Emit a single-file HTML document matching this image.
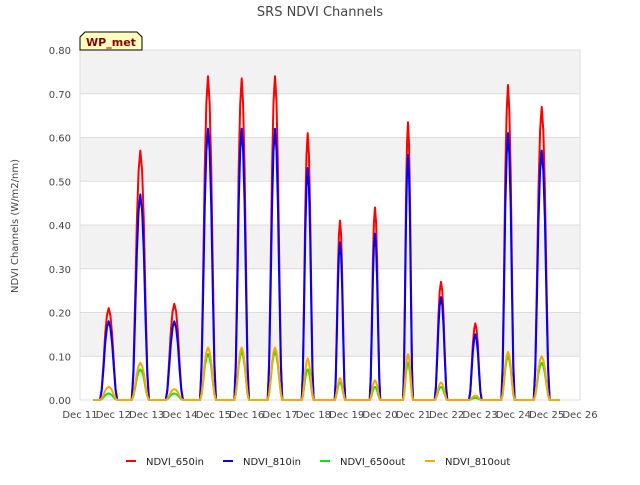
<!DOCTYPE html>
<html><head><meta charset="utf-8"><style>
body{margin:0;background:#fff;font-family:"Liberation Sans","DejaVu Sans",sans-serif}
svg text{font-family:"DejaVu Sans","Liberation Sans",sans-serif}
</style></head><body>
<svg id="c" width="640" height="480">
<rect x="0" y="0" width="640" height="480" fill="#fff"/>
<text x="320" y="16" text-anchor="middle" font-size="13" fill="#444">SRS NDVI Channels</text>
<text transform="translate(18,226) rotate(-90)" text-anchor="middle" font-size="10" fill="#444">NDVI Channels (W/m2/nm)</text>
<g id="grid"></g><g id="ax"></g><g id="series"></g>
<g>
<path d="M80,50 L80,37 L85,32 L137,32 L142,37 L142,50 Z" fill="#ffffc0" stroke="#000" stroke-width="1"/>
<text x="111" y="46" text-anchor="middle" font-size="11" font-weight="bold" fill="#8b0000">WP_met</text></g>
<g id="legend"></g>
</svg>
<script>
const yTicks=[0,0.1,0.2,0.3,0.4,0.5,0.6,0.7,0.8];
const xLabels=["Dec 11","Dec 12","Dec 13","Dec 14","Dec 15","Dec 16","Dec 17","Dec 18","Dec 19","Dec 20","Dec 21","Dec 22","Dec 23","Dec 24","Dec 25","Dec 26"];
const peakTimes=[0.86,1.81,2.83,3.84,4.85,5.85,6.83,7.8,8.85,9.84,10.83,11.86,12.84,13.85];
const halfWidths=[0.26,0.26,0.26,0.24,0.22,0.22,0.18,0.16,0.16,0.15,0.19,0.19,0.2,0.24];
const red650in=[0.21,0.57,0.22,0.74,0.735,0.74,0.61,0.41,0.44,0.635,0.27,0.175,0.72,0.67];
const blue810in=[0.18,0.47,0.18,0.62,0.62,0.62,0.53,0.36,0.38,0.56,0.235,0.15,0.61,0.57];
const green650out=[0.015,0.07,0.015,0.105,0.11,0.11,0.07,0.04,0.03,0.085,0.03,0.005,0.1,0.085];
const orange810out=[0.03,0.085,0.025,0.12,0.12,0.12,0.095,0.05,0.045,0.105,0.04,0.01,0.11,0.1];
const profile=[0,0.12,0.4,0.72,0.92,1,0.92,0.72,0.4,0.12,0];
const X0=80,X1=580,Y0=400,Y1=50;
const xs=t=>X0+t*(X1-X0)/15, ys=v=>Y0-v*(Y0-Y1)/0.8;
const NS="http://www.w3.org/2000/svg";
const mk=(tag,attrs,parent)=>{const e=document.createElementNS(NS,tag);for(const k in attrs)e.setAttribute(k,attrs[k]);parent.appendChild(e);return e;};
const grid=document.getElementById('grid'),ax=document.getElementById('ax');
for(let i=0;i<yTicks.length-1;i++){
 if(i%2==1){const r=mk('rect',{x:X0,y:ys(yTicks[i+1]),width:X1-X0,height:ys(yTicks[i])-ys(yTicks[i+1]),fill:'#f2f2f2'},grid);
 
 }
}
mk('rect',{x:X0,y:Y1,width:X1-X0,height:Y0-Y1,fill:'none',stroke:'#ddd'},grid);
yTicks.forEach(v=>{
 const l=mk('line',{x1:X0,x2:X1,y1:ys(v),y2:ys(v),stroke:'#ddd'},grid);
 
 
 const t=mk('text',{x:X0-9,y:ys(v)+4,'text-anchor':'end','font-size':10,fill:'#444'},ax);
 
 
 t.textContent=v.toFixed(2);
});
xLabels.forEach((s,i)=>{
 const t=mk('text',{x:xs(i),y:Y0+18,'text-anchor':'middle','font-size':10,fill:'#444'},ax);
 
 
 t.textContent=s;
});
const series=[["NDVI_650in","#ff0000",red650in],["NDVI_810in","#0000ff",blue810in],["NDVI_650out","#00ee00",green650out],["NDVI_810out","#ffa500",orange810out]];
const sg=document.getElementById('series');
series.forEach(([name,col,vals])=>{
 let pts=[[0.4,0]];
 vals.forEach((v,d)=>{
  const c=peakTimes[d],w=halfWidths[d];
  profile.forEach((p,k)=>pts.push([c-w+k*(2*w/(profile.length-1)),v*p]));
 });
 pts.push([14.4,0]);
 const p=mk('polyline',{points:pts.map(q=>xs(q[0]).toFixed(1)+','+ys(q[1]).toFixed(1)).join(' '),fill:'none',stroke:col,'stroke-width':2,'stroke-linejoin':'round'},sg);
 
 
});
const lg=document.getElementById('legend');
const lx=[126,223,320,425];
series.forEach(([name,col],i)=>{
 const g=mk('g',{},lg);
 
 
 mk('line',{x1:lx[i],x2:lx[i]+10,y1:461,y2:461,stroke:col,'stroke-width':2},g);
 const t=mk('text',{x:lx[i]+20,y:465,'font-size':10,fill:'#222'},g);
 t.textContent=name;
});
</script>
</body></html>
